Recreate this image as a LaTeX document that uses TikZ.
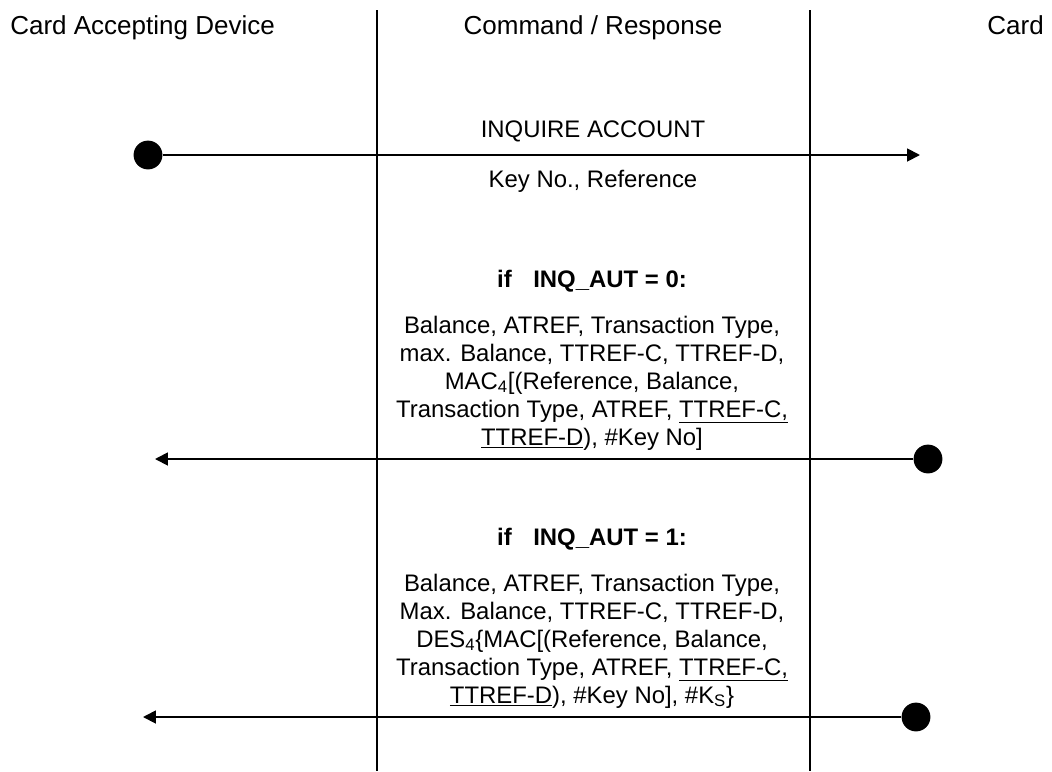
\documentclass[tikz,border=0pt]{standalone}
\usepackage{fontspec}
\setmainfont{Liberation Sans}
\usetikzlibrary{arrows.meta}

\begin{document}
\begin{tikzpicture}[x=0.025cm, y=-0.025cm,
    every node/.style={font=\fontsize{17}{19.9}\selectfont, inner sep=0pt},
    header/.style={font=\fontsize{18.5}{22}\selectfont},
    lifeline/.style={line width=1.3pt},
    msg/.style={line width=1.3pt, -{Triangle[length=0.32cm, width=0.32cm]}},
    dot/.style={circle, fill=black, minimum size=0.72cm, inner sep=0pt},
    block/.style={align=center}]
    \useasboundingbox (0,0) rectangle (1052,771);

    % Headers
    \node[header, anchor=base west] (cad_title) at (10,34) {Card Accepting Device};
    \node[header, anchor=base] (cmd_title) at (593,34) {Command / Response};
    \node[header, anchor=base east] (card_title) at (1044,34) {Card};

    % Lifelines
    \coordinate (left_top) at (377,10);
    \coordinate (left_bot) at (377,771);
    \coordinate (right_top) at (810,10);
    \coordinate (right_bot) at (810,771);
    \draw[lifeline] (left_top) -- (left_bot);
    \draw[lifeline] (right_top) -- (right_bot);

    % Command
    \node[anchor=base] (inq_cmd) at (593,137) {INQUIRE ACCOUNT};
    \node[anchor=base] (inq_data) at (593,187) {Key No., Reference};
    \node[dot] (dot1) at (148,155) {};
    \coordinate (tip1) at (920,155);

    % Response, INQ_AUT = 0
    \node[anchor=base] (cond0) at (592,287) {\textbf{if\hspace{0.9em}INQ\_AUT = 0:}};
    \node[block] (resp0) at (592,383) {Balance, ATREF, Transaction Type,\\
        max. Balance, TTREF-C, TTREF-D,\\
        MAC\textsubscript{4}[(Reference, Balance,\\
        Transaction Type, ATREF, \underline{TTREF-C,}\\
        \underline{TTREF-D}), \#Key No]};
    \node[dot] (dot2) at (928,459) {};
    \coordinate (tip2) at (155,459);

    % Response, INQ_AUT = 1
    \node[anchor=base] (cond1) at (592,545) {\textbf{if\hspace{0.9em}INQ\_AUT = 1:}};
    \node[block] (resp1) at (592,641) {Balance, ATREF, Transaction Type,\\
        Max. Balance, TTREF-C, TTREF-D,\\
        DES\textsubscript{4}\{MAC[(Reference, Balance,\\
        Transaction Type, ATREF, \underline{TTREF-C,}\\
        \underline{TTREF-D}), \#Key No], \#K\textsubscript{S}\}};
    \node[dot] (dot3) at (916,717) {};
    \coordinate (tip3) at (143,717);

    % Edges
    \draw[msg] (dot1) -- (tip1);
    \draw[msg] (dot2) -- (tip2);
    \draw[msg] (dot3) -- (tip3);
\end{tikzpicture}
\end{document}
